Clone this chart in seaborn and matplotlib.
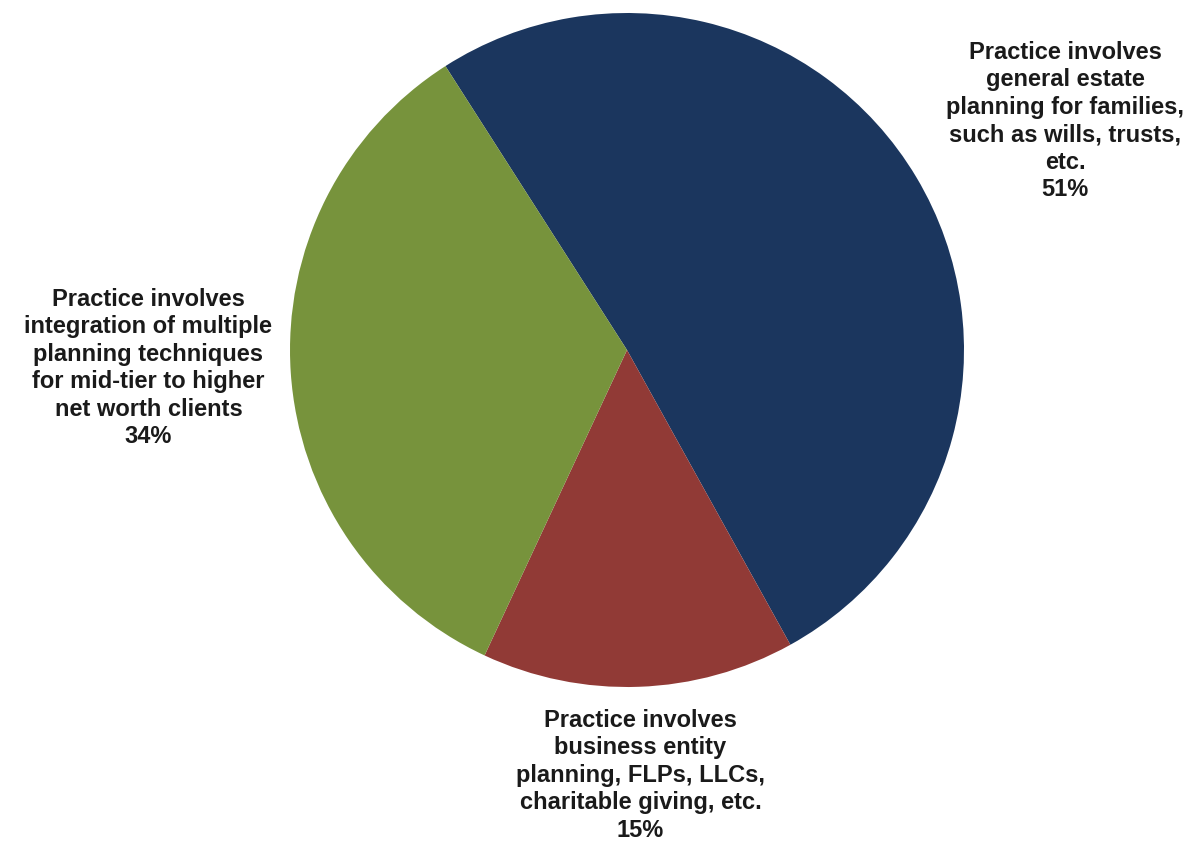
import matplotlib
matplotlib.use("Agg")
import matplotlib.pyplot as plt
import seaborn as sns

categories = [
    "Practice involves\ngeneral estate\nplanning for families,\nsuch as wills, trusts,\netc.",
    "Practice involves\nbusiness entity\nplanning, FLPs, LLCs,\ncharitable giving, etc.",
    "Practice involves\nintegration of multiple\nplanning techniques\nfor mid-tier to higher\nnet worth clients",
]
shares = [51, 15, 34]
colors = ["#1B365E", "#913A36", "#77933C"]

# label anchor positions (in pie radius units)
label_pos = [(1.30, 0.68), (0.04, -1.262), (-1.42, -0.053)]

sns.set_theme(style="white")
plt.rcParams["font.family"] = ["Liberation Sans", "DejaVu Sans"]

fig = plt.figure(figsize=(11.85, 8.42), dpi=100)
ax = fig.add_axes([0, 0, 1, 1])

ax.pie(shares, colors=colors, startangle=122.6, counterclock=False,
       radius=1.0, wedgeprops=dict(linewidth=0))

for text, val, (x, y) in zip(categories, shares, label_pos):
    ax.text(x, y, f"{text}\n{val}%", ha="center", va="center",
            fontsize=17, fontweight="bold", color="#1a1a1a",
            linespacing=1.25)

ax.set_xlim(-627 / 337, (1185 - 627) / 337)
ax.set_ylim(-(842 - 350) / 337, 350 / 337)
ax.axis("off")

fig.savefig("out.png", dpi=100, facecolor="white")
